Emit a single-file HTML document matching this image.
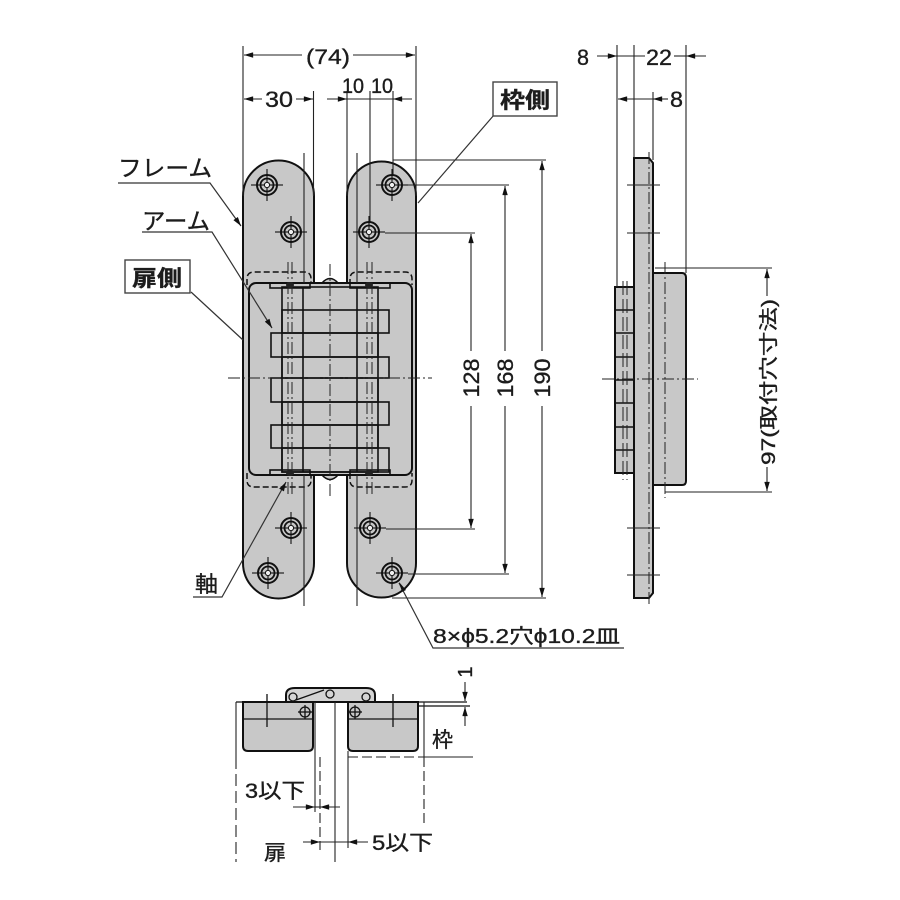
<!DOCTYPE html>
<html><head><meta charset="utf-8">
<style>
html,body{margin:0;padding:0;background:#fff;width:900px;height:900px;overflow:hidden}
svg{display:block}
text{font-family:"Liberation Sans","Noto Sans CJK JP",sans-serif;fill:#1c1c1c;stroke:#1c1c1c;stroke-width:0.35}
</style></head><body>
<svg width="900" height="900" viewBox="0 0 900 900" xmlns="http://www.w3.org/2000/svg">
<defs>
<marker id="ar" viewBox="0 0 10 6" refX="10" refY="3" markerWidth="11" markerHeight="5.5" markerUnits="userSpaceOnUse" orient="auto-start-reverse"><path d="M0,0L10,3L0,6z" fill="#111"/></marker>
<g id="hole">
<circle r="10" fill="none" stroke="#111" stroke-width="2"/>
<circle r="6.5" fill="none" stroke="#111" stroke-width="1.8"/>
<circle r="2.6" fill="#f0f0f0" stroke="#111" stroke-width="1"/>
<line x1="-16" y1="0" x2="-3" y2="0" stroke="#111" stroke-width="1.1"/>
<line x1="3" y1="0" x2="16" y2="0" stroke="#111" stroke-width="1.1"/>
<line x1="0" y1="-16" x2="0" y2="-3" stroke="#111" stroke-width="1.1"/>
<line x1="0" y1="3" x2="0" y2="16" stroke="#111" stroke-width="1.1"/>
</g>
</defs>

<!-- ============ FRONT VIEW ============ -->
<path d="M243,196 A35.5,35.5 0 0 1 314,196 L314,563 A35.5,35.5 0 0 1 243,563 Z" fill="#c8c8c8" stroke="#111" stroke-width="2"/>
<path d="M347,196 A34.5,34.5 0 0 1 416,196 L416,563 A34.5,34.5 0 0 1 347,563 Z" fill="#c8c8c8" stroke="#111" stroke-width="2"/>

<!-- dashed arm outlines -->
<g fill="none" stroke="#111" stroke-width="1.5" stroke-dasharray="6,3">
<path d="M247,285 L247,279 Q247,272 254,272 L304,272 Q311,272 311,279 L311,285"/>
<path d="M350,285 L350,279 Q350,272 357,272 L405,272 Q412,272 412,279 L412,285"/>
<path d="M247,473 L247,480 Q247,487 254,487 L304,487 Q311,487 311,480 L311,473"/>
<path d="M350,473 L350,480 Q350,487 357,487 L405,487 Q412,487 412,480 L412,473"/>
</g>

<!-- body -->
<path d="M322,283 Q330,274 338,283" fill="#c8c8c8" stroke="#111" stroke-width="1.6"/>
<path d="M322,475 Q330,484 338,475" fill="#c8c8c8" stroke="#111" stroke-width="1.6"/>
<rect x="249" y="283" width="163" height="192" rx="7" fill="#c8c8c8" stroke="#111" stroke-width="2"/>
<g fill="none" stroke="#111" stroke-width="1.6">
<rect x="270" y="283" width="40" height="5"/>
<rect x="350" y="283" width="40" height="5"/>
<rect x="270" y="470" width="40" height="5"/>
<rect x="350" y="470" width="40" height="5"/>
<rect x="282" y="287" width="96" height="185"/>
<rect x="282" y="310" width="107" height="23"/>
<rect x="282" y="357" width="107" height="21"/>
<rect x="282" y="402" width="107" height="23"/>
<rect x="282" y="448" width="107" height="24"/>
<rect x="271" y="333" width="107" height="24"/>
<rect x="271" y="378" width="107" height="24"/>
<rect x="271" y="425" width="107" height="23"/>
<line x1="303" y1="287" x2="303" y2="472"/>
<line x1="357" y1="287" x2="357" y2="472"/>
</g>
<g fill="none" stroke="#222" stroke-width="1" stroke-dasharray="12,3,2,3">
<line x1="288" y1="262" x2="288" y2="496"/>
<line x1="292" y1="262" x2="292" y2="496"/>
<line x1="367" y1="262" x2="367" y2="496"/>
<line x1="372" y1="262" x2="372" y2="496"/>
<line x1="330" y1="264" x2="330" y2="498"/>
<line x1="228" y1="378" x2="432" y2="378"/>
</g>
<ellipse cx="290" cy="285" rx="4" ry="3" fill="#222"/>
<ellipse cx="369" cy="285" rx="4" ry="3" fill="#222"/>
<ellipse cx="290" cy="473" rx="4" ry="3" fill="#222"/>
<ellipse cx="369" cy="473" rx="4" ry="3" fill="#222"/>

<!-- extension / inner lines -->
<g stroke="#222" stroke-width="1.1" fill="none">
<line x1="243" y1="46" x2="243" y2="196"/>
<line x1="416" y1="46" x2="416" y2="196"/>
<line x1="313.5" y1="91" x2="313.5" y2="196"/>
<line x1="347" y1="91" x2="347" y2="196"/>
<line x1="370" y1="91" x2="370" y2="222"/>
<line x1="393" y1="91" x2="393" y2="175"/>
<line x1="304" y1="153" x2="304" y2="283"/>
<line x1="357" y1="153" x2="357" y2="283"/>
<line x1="304" y1="475" x2="304" y2="606"/>
<line x1="357" y1="475" x2="357" y2="606"/>
<line x1="393" y1="160" x2="546" y2="160"/>
<line x1="408" y1="185" x2="509" y2="185"/>
<line x1="385" y1="233" x2="475" y2="233"/>
<line x1="386" y1="529" x2="475" y2="529"/>
<line x1="408" y1="574" x2="509" y2="574"/>
<line x1="392" y1="598" x2="546" y2="598"/>
</g>

<!-- holes -->
<use href="#hole" x="267" y="185"/>
<use href="#hole" x="291" y="232"/>
<use href="#hole" x="392" y="185"/>
<use href="#hole" x="369" y="232"/>
<use href="#hole" x="291" y="528"/>
<use href="#hole" x="268" y="573"/>
<use href="#hole" x="370" y="528"/>
<use href="#hole" x="392" y="573"/>

<!-- top dimensions -->
<g stroke="#222" stroke-width="1.1" fill="none">
<line x1="302" y1="55" x2="244" y2="55" marker-end="url(#ar)"/>
<line x1="353" y1="55" x2="415" y2="55" marker-end="url(#ar)"/>
<line x1="262" y1="99" x2="244" y2="99" marker-end="url(#ar)"/>
<line x1="296" y1="99" x2="313" y2="99" marker-end="url(#ar)"/>
<line x1="327" y1="99" x2="347" y2="99" marker-end="url(#ar)"/>
<line x1="347" y1="99" x2="393" y2="99"/>
<line x1="412" y1="99" x2="393" y2="99" marker-end="url(#ar)"/>
<line x1="471" y1="351" x2="471" y2="234" marker-end="url(#ar)"/>
<line x1="471" y1="406" x2="471" y2="528" marker-end="url(#ar)"/>
<line x1="505" y1="351" x2="505" y2="186" marker-end="url(#ar)"/>
<line x1="505" y1="406" x2="505" y2="573" marker-end="url(#ar)"/>
<line x1="542" y1="351" x2="542" y2="161" marker-end="url(#ar)"/>
<line x1="542" y1="406" x2="542" y2="597" marker-end="url(#ar)"/>
</g>
<text x="306" y="64" font-size="21" textLength="44" lengthAdjust="spacingAndGlyphs">(74)</text>
<text x="265" y="107" font-size="22" textLength="28" lengthAdjust="spacingAndGlyphs">30</text>
<text x="342" y="93" font-size="21" textLength="22" lengthAdjust="spacingAndGlyphs">10</text>
<text x="371" y="93" font-size="21" textLength="22" lengthAdjust="spacingAndGlyphs">10</text>
<text transform="translate(479,378) rotate(-90)" text-anchor="middle" font-size="22" textLength="39" lengthAdjust="spacingAndGlyphs">128</text>
<text transform="translate(513,378) rotate(-90)" text-anchor="middle" font-size="22" textLength="39" lengthAdjust="spacingAndGlyphs">168</text>
<text transform="translate(550,378) rotate(-90)" text-anchor="middle" font-size="22" textLength="39" lengthAdjust="spacingAndGlyphs">190</text>

<!-- labels / leaders -->
<g stroke="#333" stroke-width="1.2" fill="none">
<polyline points="118,183 210,183 241,226" marker-end="url(#ar)"/>
<polyline points="142,232 212,232 272,328" marker-end="url(#ar)"/>
<line x1="191" y1="292" x2="243" y2="340"/>
<polyline points="193,597 222,597 286,482" marker-end="url(#ar)"/>
<line x1="494" y1="115" x2="418" y2="203"/>
<polyline points="399,583 433,648 624,648"/>
</g>
<path d="M399,582 L406,590 L402,592 Z" fill="#111"/>
<text x="118" y="176" font-size="23" textLength="94" lengthAdjust="spacingAndGlyphs">フレーム</text>
<text x="142" y="229" font-size="23" textLength="68" lengthAdjust="spacingAndGlyphs">アーム</text>
<rect x="125" y="260" width="65" height="33" fill="#fff" stroke="#444" stroke-width="1.4"/>
<text x="132" y="286" font-size="22" font-weight="bold" textLength="50" lengthAdjust="spacingAndGlyphs">扉側</text>
<rect x="493" y="82" width="64" height="34" fill="#fff" stroke="#444" stroke-width="1.4"/>
<text x="500" y="108" font-size="22" font-weight="bold" textLength="50" lengthAdjust="spacingAndGlyphs">枠側</text>
<text x="195" y="592" font-size="22" textLength="23" lengthAdjust="spacingAndGlyphs">軸</text>
<text x="433" y="643" font-size="20" textLength="187" lengthAdjust="spacingAndGlyphs">8×ϕ5.2穴ϕ10.2皿</text>

<!-- ============ SIDE VIEW ============ -->
<rect x="615" y="287" width="19" height="186" fill="#c8c8c8" stroke="#111" stroke-width="2"/>
<g stroke="#111" stroke-width="1.4">
<line x1="615" y1="310" x2="634" y2="310"/>
<line x1="615" y1="333" x2="634" y2="333"/>
<line x1="615" y1="357" x2="634" y2="357"/>
<line x1="615" y1="380" x2="634" y2="380"/>
<line x1="615" y1="403" x2="634" y2="403"/>
<line x1="615" y1="427" x2="634" y2="427"/>
<line x1="615" y1="450" x2="634" y2="450"/>
</g>
<g stroke="#222" stroke-width="1" stroke-dasharray="14,4">
<line x1="623" y1="281" x2="623" y2="480"/>
<line x1="627" y1="281" x2="627" y2="480"/>
</g>
<path d="M653,273 L682,273 Q686,273 686,278 L686,481 Q686,485 682,485 L653,485 Z" fill="#c8c8c8" stroke="#111" stroke-width="2"/>
<path d="M634,158 L649,158 L653,163 L653,593 L649,598 L634,598 Z" fill="#c8c8c8" stroke="#111" stroke-width="2"/>
<g stroke="#222" stroke-width="1.1" fill="none">
<line x1="627" y1="185" x2="660" y2="185"/>
<line x1="627" y1="233" x2="660" y2="233"/>
<line x1="627" y1="528" x2="660" y2="528"/>
<line x1="627" y1="575" x2="660" y2="575"/>
<line x1="617" y1="45" x2="617" y2="287"/>
<line x1="634" y1="45" x2="634" y2="158"/>
<line x1="653" y1="92" x2="653" y2="160"/>
<line x1="686" y1="45" x2="686" y2="273"/>
<line x1="655" y1="268" x2="772" y2="268"/>
<line x1="665" y1="492" x2="772" y2="492"/>
<line x1="597" y1="56" x2="617" y2="56" marker-end="url(#ar)"/>
<line x1="617" y1="56" x2="645" y2="56"/>
<line x1="674" y1="56" x2="686" y2="56"/>
<line x1="706" y1="56" x2="686" y2="56" marker-end="url(#ar)"/>
<line x1="653" y1="99" x2="618" y2="99" marker-end="url(#ar)"/>
<line x1="668" y1="99" x2="653" y2="99" marker-end="url(#ar)"/>
<line x1="767" y1="296" x2="767" y2="269" marker-end="url(#ar)"/>
<line x1="767" y1="467" x2="767" y2="491" marker-end="url(#ar)"/>
</g>
<g stroke="#222" stroke-width="1" stroke-dasharray="12,3,2,3" fill="none">
<line x1="649" y1="152" x2="649" y2="606"/>
<line x1="665" y1="262" x2="665" y2="498"/>
<line x1="602" y1="379" x2="698" y2="379"/>
</g>
<text x="577" y="65" font-size="22" textLength="12" lengthAdjust="spacingAndGlyphs">8</text>
<text x="646" y="65" font-size="22" textLength="26" lengthAdjust="spacingAndGlyphs">22</text>
<text x="670" y="107" font-size="22" textLength="13" lengthAdjust="spacingAndGlyphs">8</text>
<text transform="translate(775,382) rotate(-90)" text-anchor="middle" font-size="19" textLength="166" lengthAdjust="spacingAndGlyphs">97(取付穴寸法)</text>

<!-- ============ BOTTOM VIEW ============ -->
<path d="M243,702 L313,702 L313,746 Q313,751 308,751 L248,751 Q243,751 243,746 Z" fill="#c8c8c8" stroke="#111" stroke-width="2"/>
<path d="M348,702 L418,702 L418,746 Q418,751 413,751 L353,751 Q348,751 348,746 Z" fill="#c8c8c8" stroke="#111" stroke-width="2"/>
<path d="M286,702 L286,695 Q286,688 295,688 L366,688 Q375,688 375,695 L375,702 Z" fill="#d4d4d4" stroke="#111" stroke-width="2"/>
<g stroke="#111" stroke-width="1.3" fill="none">
<line x1="243" y1="719" x2="313" y2="719"/>
<line x1="348" y1="719" x2="418" y2="719"/>
<line x1="236" y1="702" x2="467" y2="702"/>
<line x1="418" y1="706" x2="470" y2="706"/>
<line x1="296" y1="700" x2="324" y2="690"/>
<line x1="267" y1="694" x2="267" y2="727"/>
<line x1="393" y1="694" x2="393" y2="727"/>
<circle cx="293" cy="697" r="4"/>
<circle cx="330" cy="694" r="4"/>
<circle cx="366" cy="697" r="4"/>
<circle cx="305" cy="712" r="5"/>
<circle cx="355" cy="712" r="5"/>
<line x1="298" y1="712" x2="312" y2="712"/><line x1="305" y1="705" x2="305" y2="719"/>
<line x1="348" y1="712" x2="362" y2="712"/><line x1="355" y1="705" x2="355" y2="719"/>
</g>
<g stroke="#222" stroke-width="1.1" fill="none">
<line x1="236" y1="702" x2="236" y2="757"/>
<line x1="236" y1="757" x2="236" y2="862" stroke-dasharray="12,5"/>
<line x1="315" y1="702" x2="315" y2="812"/>
<line x1="320" y1="757" x2="320" y2="850" stroke-dasharray="10,4"/>
<line x1="335" y1="702" x2="335" y2="862"/>
<line x1="348" y1="751" x2="348" y2="848"/>
<line x1="424" y1="702" x2="424" y2="757"/>
<line x1="424" y1="757" x2="424" y2="827" stroke-dasharray="10,4"/>
<line x1="348" y1="757" x2="424" y2="757" stroke-dasharray="10,4"/>
<line x1="424" y1="757" x2="473" y2="757"/>
<line x1="465" y1="682" x2="465" y2="701" marker-end="url(#ar)"/>
<line x1="465" y1="726" x2="465" y2="707" marker-end="url(#ar)"/>
<line x1="293" y1="807" x2="315" y2="807" marker-end="url(#ar)"/>
<line x1="315" y1="807" x2="320" y2="807"/>
<line x1="340" y1="807" x2="320" y2="807" marker-end="url(#ar)"/>
<line x1="303" y1="842" x2="320" y2="842" marker-end="url(#ar)"/>
<line x1="320" y1="842" x2="348" y2="842"/>
<line x1="368" y1="842" x2="348" y2="842" marker-end="url(#ar)"/>
</g>
<text transform="translate(472,672) rotate(-90)" text-anchor="middle" font-size="20">1</text>
<text x="432" y="747" font-size="21" textLength="21" lengthAdjust="spacingAndGlyphs">枠</text>
<text x="245" y="798" font-size="21" textLength="60" lengthAdjust="spacingAndGlyphs">3以下</text>
<text x="372" y="850" font-size="21" textLength="61" lengthAdjust="spacingAndGlyphs">5以下</text>
<text x="264" y="860" font-size="21" textLength="22" lengthAdjust="spacingAndGlyphs">扉</text>
</svg>
</body></html>
